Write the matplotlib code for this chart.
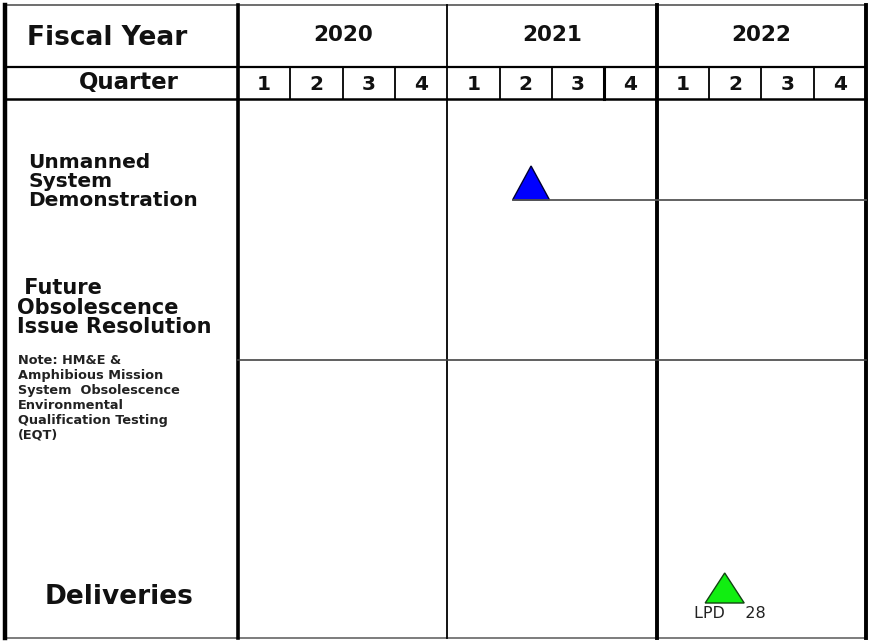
import matplotlib
matplotlib.use("Agg")
import matplotlib.pyplot as plt
from matplotlib.patches import Polygon

# --- data ---
fiscal_years = ["2020", "2021", "2022"]
quarters = ["1", "2", "3", "4"]
unmanned_label = ["Unmanned", "System", "Demonstration"]
obsolescence_label = [" Future", "Obsolescence", "Issue Resolution"]
note_lines = ["Note: HM&E &", "Amphibious Mission", "System  Obsolescence",
              "Environmental", "Qualification Testing", "(EQT)"]
deliveries_label = "Deliveries"
# milestone position, in quarters from the start of FY2020
demo_start = 5.6
delivery_pos = 9.3
delivery_name = "LPD    28"

# --- layout (pixels of an 870x641 picture) ---
QW = (866 - 238) / 12.0          # one quarter in pixels


def qx(px):
    return (px - 238) / QW


fig = plt.figure(figsize=(8.7, 6.41), dpi=100)
ax = fig.add_axes([0, 0, 1, 1])
ax.set_xlim(qx(0), qx(870))
ax.set_ylim(641, 0)
ax.axis("off")

font = "DejaVu Sans"
top, hdr1, hdr2, bottom = 5, 67, 99, 638
nq = len(fiscal_years) * len(quarters)

# outer frame + header lines
ax.plot([qx(5), qx(866)], [top, top], color="#555555", lw=1.2)
ax.plot([qx(5), qx(866)], [hdr1, hdr1], color="black", lw=1.6)
ax.plot([qx(5), qx(866)], [hdr2, hdr2], color="black", lw=1.8)
ax.plot([qx(5), qx(866)], [bottom, bottom], color="#666666", lw=1.2)
ax.plot([qx(5), qx(5)], [top, bottom], color="black", lw=3.2)
ax.plot([0, 0], [top, bottom], color="black", lw=2.6)

# year dividers
for i in range(1, len(fiscal_years) + 1):
    x = i * len(quarters)
    lw = 1.3 if i == 1 else 2.8
    ax.plot([x, x], [top, bottom], color="black", lw=lw)

# quarter dividers (header only)
for k in range(1, nq):
    if k % len(quarters) == 0:
        continue
    lw = 2.2 if k == 7 else 1.3
    ax.plot([k, k], [hdr1, hdr2], color="black", lw=lw)

# header text
ax.text(qx(27), (top + hdr1) / 2 + 2, "Fiscal Year", fontsize=19, fontweight="bold",
        family=font, ha="left", va="center", color="#111111")
ax.text(qx(129), (hdr1 + hdr2) / 2, "Quarter", fontsize=16.5, fontweight="bold",
        family=font, ha="center", va="center", color="#111111")
for i, yr in enumerate(fiscal_years):
    ax.text(i * 4 + 2, (top + hdr1) / 2 - 1, yr, fontsize=15.5, fontweight="bold",
            family=font, ha="center", va="center", color="#111111")
    for j, q in enumerate(quarters):
        ax.text(i * 4 + j + 0.5, (hdr1 + hdr2) / 2 + 1, q, fontsize=14.5,
                fontweight="bold", family=font, ha="center", va="center",
                color="#111111")

# row separator
ax.plot([0, nq], [360, 360], color="#444444", lw=1.2)

# row labels
for k, line in enumerate(unmanned_label):
    ax.text(qx(28), 162 + k * 19.5, line, fontsize=14.5, fontweight="bold",
            family=font, ha="left", va="center", color="#111111")
for k, line in enumerate(obsolescence_label):
    ax.text(qx(17), 288 + k * 19.5, line, fontsize=15, fontweight="bold",
            family=font, ha="left", va="center", color="#111111")
for k, line in enumerate(note_lines):
    ax.text(qx(18), 361 + k * 14.8, line, fontsize=9.3, fontweight="bold",
            family=font, ha="left", va="center", color="#222222")
ax.text(qx(45), 597, deliveries_label, fontsize=19, fontweight="bold",
        family=font, ha="left", va="center", color="#111111")

# unmanned system demonstration milestone + line to the end
tw = 37 / QW
ax.plot([demo_start - tw / 2, nq], [200, 200], color="#555555", lw=1.3)
ax.add_patch(Polygon([[demo_start - tw / 2, 200], [demo_start + tw / 2, 200],
                      [demo_start, 166]], closed=True, facecolor="#0000ff",
                     edgecolor="#000033", lw=1))

# delivery milestone
tw2 = 39 / QW
ax.add_patch(Polygon([[delivery_pos - tw2 / 2, 603], [delivery_pos + tw2 / 2, 603],
                      [delivery_pos, 573]], closed=True, facecolor="#11ee11",
                     edgecolor="#114411", lw=1))
ax.text(qx(694), 614, delivery_name, fontsize=11.5, family=font,
        ha="left", va="center", color="#222222")

fig.savefig("out.png", dpi=100)
